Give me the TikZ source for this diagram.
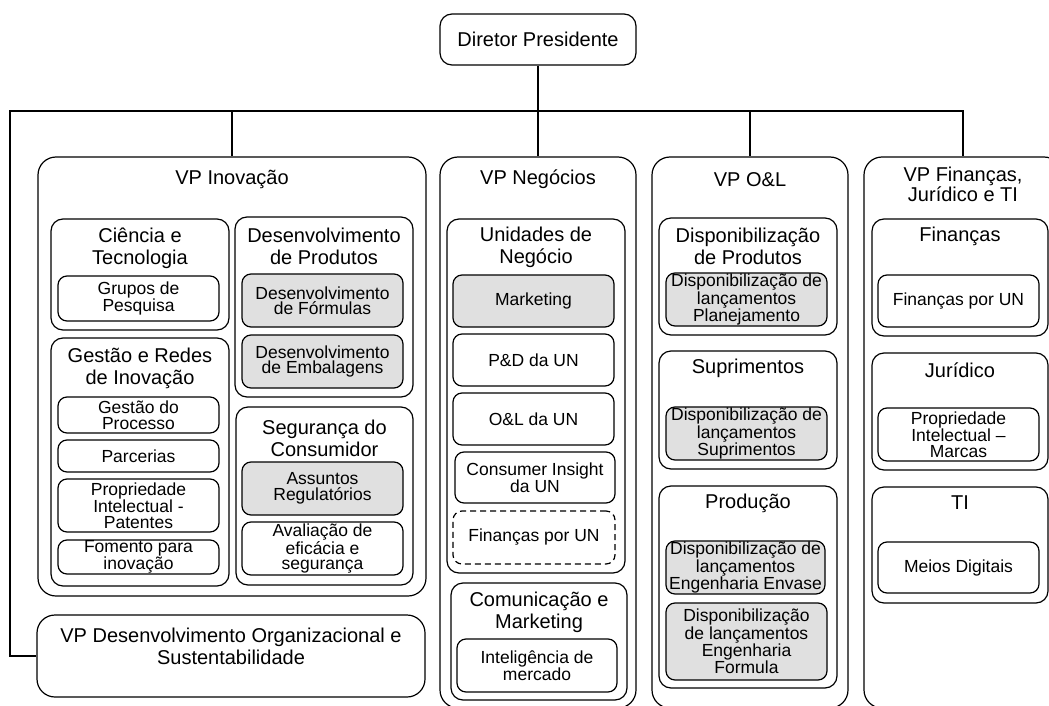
\documentclass[tikz,border=0pt]{standalone}
\usepackage{fontspec}
\setmainfont{Liberation Sans}
\definecolor{unitgray}{RGB}{224,224,224}
\begin{document}
\begin{tikzpicture}
[x=1pt, y=-1pt,
 linkstyle/.style={line width=1.2pt},%
 vpstyle/.style={draw, line width=1.2pt, rounded corners=18pt, inner sep=0pt},%
 areastyle/.style={draw, line width=1.2pt, rounded corners=12pt, inner sep=0pt},%
 unitstyle/.style={draw, line width=1.2pt, rounded corners=9pt, inner sep=0pt, align=center,
   font=\fontsize{17.5}{15.5}\selectfont},%
 grayunit/.style={unitstyle, fill=unitgray},%
 dashunit/.style={unitstyle, dash pattern=on 6pt off 4pt},%
 titlestyle/.style={inner sep=0pt, align=center, font=\fontsize{20}{22}\selectfont}]
\useasboundingbox (0,0) rectangle (1049,706);
\clip (0,0) rectangle (1049,706);
%% top
\node[areastyle, align=center, font=\fontsize{20}{22}\selectfont,
  minimum width=196pt, minimum height=51pt] (dir) at (538,39.5) {Diretor Presidente};
%% vice-presidencies
\node[vpstyle, minimum width=388pt, minimum height=439pt] (vpinov) at (232,376.5) {};
\node[vpstyle, minimum width=388pt, minimum height=82pt] (vpdo) at (231,656) {};
\node[vpstyle, minimum width=196pt, minimum height=551pt] (vpneg) at (538,432.5) {};
\node[vpstyle, minimum width=196pt, minimum height=551pt] (vpol) at (750,432.5) {};
\node[vpstyle, minimum width=198pt, minimum height=551pt] (vpfin) at (963,432.5) {};
\node[titlestyle] (vpinovtitle) at (232,179) {VP Inovação};
\node[titlestyle] (vpdotitle) at (231,646) {VP Desenvolvimento Organizacional e\\Sustentabilidade};
\node[titlestyle] (vpnegtitle) at (538,179) {VP Negócios};
\node[titlestyle] (vpoltitle) at (750,180) {VP O\&L};
\node[titlestyle, font=\fontsize{20}{18}\selectfont] (vpfintitle) at (963,184) {VP Finanças,\\Jurídico e TI};
%% connectors
\coordinate (bus) at (538,111);
\coordinate (leftbus) at (10,111);
\draw[linkstyle] (dir.south) -- (bus);
\foreach \vp in {vpinov, vpneg, vpol, vpfin}
  \draw[linkstyle] (bus) -| (\vp.north);
\draw[linkstyle] (bus) -- (leftbus) |- (vpdo.west);
%% VP Inovacao
\node[areastyle, minimum width=178pt, minimum height=111pt] (ciencia) at (140,274.5) {};
\node[titlestyle] (cienciatitle) at (140,248.5) {Ciência e\\Tecnologia};
\node[unitstyle, minimum width=161pt, minimum height=45pt] (grupos) at (138.5,298.5) {Grupos de\\Pesquisa};
\node[areastyle, minimum width=178pt, minimum height=180pt] (desprod) at (324,307) {};
\node[titlestyle] (desprodtitle) at (324,246.5) {Desenvolvimento\\de Produtos};
\node[grayunit, minimum width=161pt, minimum height=53pt] (formulas) at (322.5,300.5) {Desenvolvimento\\de Fórmulas};
\node[grayunit, minimum width=161pt, minimum height=53pt] (embal) at (322.5,361.5) {Desenvolvimento\\de Embalagens};
\node[areastyle, minimum width=178pt, minimum height=248pt] (gestao) at (140,462) {};
\node[titlestyle] (gestaotitle) at (140,368.5) {Gestão e Redes\\de Inovação};
\node[unitstyle, minimum width=161pt, minimum height=36pt] (processo) at (138.5,415) {Gestão do\\Processo};
\node[unitstyle, minimum width=161pt, minimum height=32pt] (parcerias) at (138.5,456) {Parcerias};
\node[unitstyle, minimum width=161pt, minimum height=53pt] (patentes) at (138.5,505.5) {Propriedade\\Intelectual -\\Patentes};
\node[unitstyle, minimum width=161pt, minimum height=34pt] (fomento) at (138.5,557) {Fomento para\\inovação};
\node[areastyle, minimum width=177pt, minimum height=178pt] (seguranca) at (324.5,496) {};
\node[titlestyle] (segurancatitle) at (324.5,438) {Segurança do\\Consumidor};
\node[grayunit, minimum width=161pt, minimum height=53pt] (regul) at (322.5,488.5) {Assuntos\\Regulatórios};
\node[unitstyle, minimum width=161pt, minimum height=53pt] (avaliacao) at (322.5,548.5) {Avaliação de\\eficácia e\\segurança};
%% VP Negocios
\node[areastyle, minimum width=178pt, minimum height=354pt] (unidades) at (536,396) {};
\node[titlestyle] (unidadestitle) at (536,247) {Unidades de\\Negócio};
\node[grayunit, minimum width=161pt, minimum height=52pt] (marketing) at (533.5,301) {Marketing};
\node[unitstyle, minimum width=161pt, minimum height=52pt] (ped) at (533.5,360) {P\&D da UN};
\node[unitstyle, minimum width=161pt, minimum height=52pt] (oel) at (533.5,419) {O\&L da UN};
\node[unitstyle, minimum width=160pt, minimum height=51pt] (insight) at (535,477.5) {Consumer Insight\\da UN};
\node[dashunit, minimum width=162pt, minimum height=53pt] (finun) at (534,537.5) {Finanças por UN};
\node[areastyle, minimum width=176pt, minimum height=117pt] (comunic) at (539,641.5) {};
\node[titlestyle] (comunictitle) at (539,612) {Comunicação e\\Marketing};
\node[unitstyle, minimum width=160pt, minimum height=53pt] (intelig) at (537,665.5) {Inteligência de\\mercado};
%% VP O&L
\node[areastyle, minimum width=178pt, minimum height=117pt] (dispprod) at (748,276.5) {};
\node[titlestyle] (dispprodtitle) at (748,246.5) {Disponibilização\\de Produtos};
\node[grayunit, minimum width=161pt, minimum height=53pt] (planej) at (746.5,299.5) {Disponibilização de\\lançamentos\\Planejamento};
\node[areastyle, minimum width=178pt, minimum height=118pt] (suprim) at (748,410) {};
\node[titlestyle] (suprimtitle) at (748,368) {Suprimentos};
\node[grayunit, minimum width=161pt, minimum height=53pt] (dispsup) at (746.5,433.5) {Disponibilização de\\lançamentos\\Suprimentos};
\node[areastyle, minimum width=178pt, minimum height=202pt] (producao) at (748,587) {};
\node[titlestyle] (producaotitle) at (748,503) {Produção};
\node[grayunit, minimum width=159pt, minimum height=53pt] (envase) at (745.5,567.5) {Disponibilização de\\lançamentos\\Engenharia Envase};
\node[grayunit, minimum width=161pt, minimum height=77pt] (formula) at (746.5,641.5) {Disponibilização\\de lançamentos\\Engenharia\\Formula};
%% VP Financas
\node[areastyle, minimum width=176pt, minimum height=117pt] (financas) at (960,277.5) {};
\node[titlestyle] (financastitle) at (960,236) {Finanças};
\node[unitstyle, minimum width=161pt, minimum height=52pt] (finporun) at (958.5,301) {Finanças por UN};
\node[areastyle, minimum width=176pt, minimum height=117pt] (juridico) at (960,411.5) {};
\node[titlestyle] (juridicotitle) at (960,370) {Jurídico};
\node[unitstyle, minimum width=161pt, minimum height=53pt] (marcas) at (958.5,434.5) {Propriedade\\Intelectual –\\Marcas};
\node[areastyle, minimum width=176pt, minimum height=116pt] (ti) at (960,545) {};
\node[titlestyle] (tititle) at (960,503) {TI};
\node[unitstyle, minimum width=161pt, minimum height=51pt] (meios) at (958.5,567.5) {Meios Digitais};
\end{tikzpicture}
\end{document}
